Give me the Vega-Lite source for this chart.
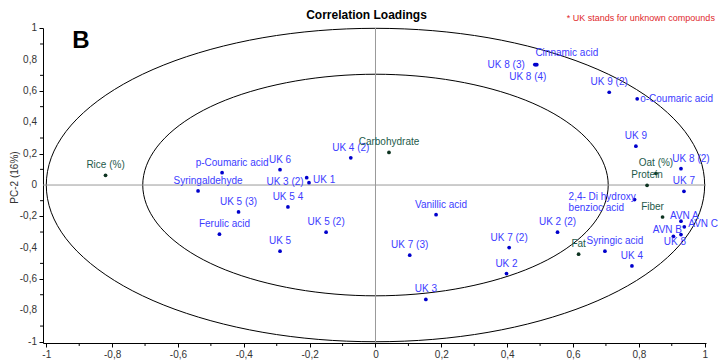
{
  "$schema": "https://vega.github.io/schema/vega-lite/v6.json",
  "width": 663,
  "height": 315,
  "autosize": "none",
  "padding": {"left": 43, "top": 28, "right": 12, "bottom": 17},
  "title": {"text": "Correlation Loadings", "fontSize": 12, "font": "Liberation Sans", "fontWeight": "bold", "anchor": "middle", "dx": -8, "offset": -8, "color": "#000000"},
  "datasets": {
    "one": [{}],
    "minor": [{"v": -0.9}, {"v": -0.7}, {"v": -0.5}, {"v": -0.3}, {"v": -0.1}, {"v": 0.1}, {"v": 0.3}, {"v": 0.5}, {"v": 0.7}, {"v": 0.9}],
    "ylabels": [{"v": 1, "t": "1"}, {"v": 0.8, "t": "0,8"}, {"v": 0.6, "t": "0,6"}, {"v": 0.4, "t": "0,4"}, {"v": 0.2, "t": "0,2"}, {"v": 0, "t": "0"}, {"v": -0.2, "t": "-0,2"}, {"v": -0.4, "t": "-0,4"}, {"v": -0.6, "t": "-0,6"}, {"v": -0.8, "t": "-0,8"}, {"v": -1, "t": "-1"}],
    "circles": [
      {"c": "outer", "a": 0, "x": 1, "y": 0}, {"c": "outer", "a": 10, "x": 0.985, "y": 0.174}, {"c": "outer", "a": 20, "x": 0.94, "y": 0.342}, {"c": "outer", "a": 30, "x": 0.866, "y": 0.5},
      {"c": "outer", "a": 40, "x": 0.766, "y": 0.643}, {"c": "outer", "a": 50, "x": 0.643, "y": 0.766}, {"c": "outer", "a": 60, "x": 0.5, "y": 0.866}, {"c": "outer", "a": 70, "x": 0.342, "y": 0.94},
      {"c": "outer", "a": 80, "x": 0.174, "y": 0.985}, {"c": "outer", "a": 90, "x": 0, "y": 1}, {"c": "outer", "a": 100, "x": -0.174, "y": 0.985}, {"c": "outer", "a": 110, "x": -0.342, "y": 0.94},
      {"c": "outer", "a": 120, "x": -0.5, "y": 0.866}, {"c": "outer", "a": 130, "x": -0.643, "y": 0.766}, {"c": "outer", "a": 140, "x": -0.766, "y": 0.643}, {"c": "outer", "a": 150, "x": -0.866, "y": 0.5},
      {"c": "outer", "a": 160, "x": -0.94, "y": 0.342}, {"c": "outer", "a": 170, "x": -0.985, "y": 0.174}, {"c": "outer", "a": 180, "x": -1, "y": 0}, {"c": "outer", "a": 190, "x": -0.985, "y": -0.174},
      {"c": "outer", "a": 200, "x": -0.94, "y": -0.342}, {"c": "outer", "a": 210, "x": -0.866, "y": -0.5}, {"c": "outer", "a": 220, "x": -0.766, "y": -0.643}, {"c": "outer", "a": 230, "x": -0.643, "y": -0.766},
      {"c": "outer", "a": 240, "x": -0.5, "y": -0.866}, {"c": "outer", "a": 250, "x": -0.342, "y": -0.94}, {"c": "outer", "a": 260, "x": -0.174, "y": -0.985}, {"c": "outer", "a": 270, "x": 0, "y": -1},
      {"c": "outer", "a": 280, "x": 0.174, "y": -0.985}, {"c": "outer", "a": 290, "x": 0.342, "y": -0.94}, {"c": "outer", "a": 300, "x": 0.5, "y": -0.866}, {"c": "outer", "a": 310, "x": 0.643, "y": -0.766},
      {"c": "outer", "a": 320, "x": 0.766, "y": -0.643}, {"c": "outer", "a": 330, "x": 0.866, "y": -0.5}, {"c": "outer", "a": 340, "x": 0.94, "y": -0.342}, {"c": "outer", "a": 350, "x": 0.985, "y": -0.174},
      {"c": "inner", "a": 0, "x": 0.707, "y": 0}, {"c": "inner", "a": 10, "x": 0.696, "y": 0.123}, {"c": "inner", "a": 20, "x": 0.664, "y": 0.242}, {"c": "inner", "a": 30, "x": 0.612, "y": 0.354},
      {"c": "inner", "a": 40, "x": 0.542, "y": 0.455}, {"c": "inner", "a": 50, "x": 0.455, "y": 0.542}, {"c": "inner", "a": 60, "x": 0.354, "y": 0.612}, {"c": "inner", "a": 70, "x": 0.242, "y": 0.664},
      {"c": "inner", "a": 80, "x": 0.123, "y": 0.696}, {"c": "inner", "a": 90, "x": 0, "y": 0.707}, {"c": "inner", "a": 100, "x": -0.123, "y": 0.696}, {"c": "inner", "a": 110, "x": -0.242, "y": 0.664},
      {"c": "inner", "a": 120, "x": -0.354, "y": 0.612}, {"c": "inner", "a": 130, "x": -0.455, "y": 0.542}, {"c": "inner", "a": 140, "x": -0.542, "y": 0.455}, {"c": "inner", "a": 150, "x": -0.612, "y": 0.354},
      {"c": "inner", "a": 160, "x": -0.664, "y": 0.242}, {"c": "inner", "a": 170, "x": -0.696, "y": 0.123}, {"c": "inner", "a": 180, "x": -0.707, "y": 0}, {"c": "inner", "a": 190, "x": -0.696, "y": -0.123},
      {"c": "inner", "a": 200, "x": -0.664, "y": -0.242}, {"c": "inner", "a": 210, "x": -0.612, "y": -0.354}, {"c": "inner", "a": 220, "x": -0.542, "y": -0.455}, {"c": "inner", "a": 230, "x": -0.455, "y": -0.542},
      {"c": "inner", "a": 240, "x": -0.354, "y": -0.612}, {"c": "inner", "a": 250, "x": -0.242, "y": -0.664}, {"c": "inner", "a": 260, "x": -0.123, "y": -0.696}, {"c": "inner", "a": 270, "x": 0, "y": -0.707},
      {"c": "inner", "a": 280, "x": 0.123, "y": -0.696}, {"c": "inner", "a": 290, "x": 0.242, "y": -0.664}, {"c": "inner", "a": 300, "x": 0.354, "y": -0.612}, {"c": "inner", "a": 310, "x": 0.455, "y": -0.542},
      {"c": "inner", "a": 320, "x": 0.542, "y": -0.455}, {"c": "inner", "a": 330, "x": 0.612, "y": -0.354}, {"c": "inner", "a": 340, "x": 0.664, "y": -0.242}, {"c": "inner", "a": 350, "x": 0.696, "y": -0.123}
    ],
    "pts": [
      {"name": "Rice (%)", "kind": "v", "x": -0.82, "y": 0.062},
      {"name": "p-Coumaric acid", "kind": "c", "x": -0.466, "y": 0.079},
      {"name": "UK 6", "kind": "c", "x": -0.29, "y": 0.098},
      {"name": "UK 4 (2)", "kind": "c", "x": -0.075, "y": 0.174},
      {"name": "Syringaldehyde", "kind": "c", "x": -0.539, "y": -0.038},
      {"name": "UK 3 (2)", "kind": "c", "x": -0.209, "y": 0.047},
      {"name": "UK 1", "kind": "c", "x": -0.202, "y": 0.015},
      {"name": "UK 5 (3)", "kind": "c", "x": -0.416, "y": -0.172},
      {"name": "UK 5 4", "kind": "c", "x": -0.266, "y": -0.14},
      {"name": "Ferulic acid", "kind": "c", "x": -0.474, "y": -0.314},
      {"name": "UK 5 (2)", "kind": "c", "x": -0.15, "y": -0.301},
      {"name": "UK 5", "kind": "c", "x": -0.29, "y": -0.422},
      {"name": "Cinnamic acid", "kind": "c", "x": 0.487, "y": 0.769},
      {"name": "UK 8 (3)", "kind": "c", "x": 0.484, "y": 0.769},
      {"name": "UK 8 (4)", "kind": "c", "x": 0.49, "y": 0.768},
      {"name": "UK 9 (2)", "kind": "c", "x": 0.71, "y": 0.592},
      {"name": "o-Coumaric acid", "kind": "c", "x": 0.795, "y": 0.55},
      {"name": "Carbohydrate", "kind": "v", "x": 0.041, "y": 0.208},
      {"name": "UK 9", "kind": "c", "x": 0.791, "y": 0.248},
      {"name": "Oat (%)", "kind": "v", "x": 0.852, "y": 0.075},
      {"name": "UK 8 (2)", "kind": "c", "x": 0.928, "y": 0.104},
      {"name": "Protein", "kind": "v", "x": 0.825, "y": -0.002},
      {"name": "UK 7", "kind": "c", "x": 0.937, "y": -0.04},
      {"name": "2,4- Di hydroxy\nbenzioc acid", "kind": "c", "x": 0.787, "y": -0.093},
      {"name": "Fiber", "kind": "v", "x": 0.872, "y": -0.204},
      {"name": "AVN A", "kind": "c", "x": 0.928, "y": -0.231},
      {"name": "AVN C", "kind": "c", "x": 0.938, "y": -0.267},
      {"name": "AVN B", "kind": "c", "x": 0.905, "y": -0.327},
      {"name": "UK 8", "kind": "c", "x": 0.928, "y": -0.316},
      {"name": "Syringic acid", "kind": "c", "x": 0.697, "y": -0.422},
      {"name": "Fat", "kind": "v", "x": 0.617, "y": -0.441},
      {"name": "UK 4", "kind": "c", "x": 0.779, "y": -0.516},
      {"name": "Vanillic acid", "kind": "c", "x": 0.184, "y": -0.189},
      {"name": "UK 2 (2)", "kind": "c", "x": 0.553, "y": -0.301},
      {"name": "UK 7 (2)", "kind": "c", "x": 0.406, "y": -0.399},
      {"name": "UK 7 (3)", "kind": "c", "x": 0.104, "y": -0.448},
      {"name": "UK 2", "kind": "c", "x": 0.398, "y": -0.565},
      {"name": "UK 3", "kind": "c", "x": 0.153, "y": -0.73}
    ]
  },
  "layer": [
    {
      "data": {"name": "circles"},
      "mark": {"type": "line", "interpolate": "cardinal-closed", "color": "#000000", "strokeWidth": 1},
      "encoding": {
        "x": {"field": "x", "type": "quantitative", "scale": {"domain": [-1.01, 1.004], "nice": false, "zero": false}, "title": null,
          "axis": {"values": [-1, -0.8, -0.6, -0.4, -0.2, 0, 0.2, 0.4, 0.6, 0.8, 1], "labelExpr": "replace(toString(round(datum.value*10)/10), '.', ',')", "grid": false, "tickSize": 4, "labelPadding": 2, "domainColor": "#000000", "tickColor": "#000000", "labelColor": "#333333", "labelFontSize": 10, "labelFont": "Liberation Sans", "labelFlush": false, "labelOverlap": false}},
        "y": {"field": "y", "type": "quantitative", "scale": {"domain": [-1.008, 1.002], "nice": false, "zero": false}, "title": "PC-2 (16%)",
          "axis": {"values": [-1, -0.8, -0.6, -0.4, -0.2, 0, 0.2, 0.4, 0.6, 0.8, 1], "labels": false, "grid": false, "tickSize": 4, "domainColor": "#000000", "tickColor": "#000000", "titleFont": "Liberation Sans", "titleFontSize": 10, "titleFontWeight": "normal", "titleColor": "#333333", "titleX": -24, "titleY": 149}},
        "detail": {"field": "c"},
        "order": {"field": "a", "type": "quantitative"}
      }
    },
    {
      "data": {"name": "ylabels"},
      "mark": {"type": "text", "align": "right", "baseline": "middle", "dx": -6, "fontSize": 10, "font": "Liberation Sans", "color": "#333333"},
      "encoding": {
        "y": {"field": "v", "type": "quantitative", "scale": {"domain": [-1.008, 1.002], "nice": false, "zero": false}, "title": "PC-2 (16%)"},
        "x": {"datum": -1.01, "type": "quantitative", "scale": {"domain": [-1.01, 1.004], "nice": false, "zero": false}, "title": null},
        "text": {"field": "t"}
      }
    },
    {
      "data": {"name": "minor"},
      "mark": {"type": "rule", "color": "#000000", "strokeWidth": 1},
      "encoding": {
        "x": {"field": "v", "type": "quantitative", "scale": {"domain": [-1.01, 1.004], "nice": false, "zero": false}, "title": null},
        "y": {"datum": -1.008, "type": "quantitative", "scale": {"domain": [-1.008, 1.002], "nice": false, "zero": false}, "title": "PC-2 (16%)"},
        "y2": {"datum": -1.027}
      }
    },
    {
      "data": {"name": "minor"},
      "mark": {"type": "rule", "color": "#000000", "strokeWidth": 1},
      "encoding": {
        "y": {"field": "v", "type": "quantitative", "scale": {"domain": [-1.008, 1.002], "nice": false, "zero": false}, "title": "PC-2 (16%)"},
        "x": {"datum": -1.01, "type": "quantitative", "scale": {"domain": [-1.01, 1.004], "nice": false, "zero": false}, "title": null},
        "x2": {"datum": -1.019}
      }
    },
    {
      "data": {"name": "one"},
      "mark": {"type": "rule", "color": "#999999", "strokeWidth": 1},
      "encoding": {
        "y": {"datum": 0, "type": "quantitative", "scale": {"domain": [-1.008, 1.002], "nice": false, "zero": false}, "title": "PC-2 (16%)"},
        "x": {"datum": -1.01, "type": "quantitative", "scale": {"domain": [-1.01, 1.004], "nice": false, "zero": false}, "title": null},
        "x2": {"datum": 1.004}
      }
    },
    {
      "data": {"name": "one"},
      "mark": {"type": "rule", "color": "#999999", "strokeWidth": 1},
      "encoding": {
        "x": {"datum": 0, "type": "quantitative", "scale": {"domain": [-1.01, 1.004], "nice": false, "zero": false}, "title": null},
        "y": {"datum": -1.008, "type": "quantitative", "scale": {"domain": [-1.008, 1.002], "nice": false, "zero": false}, "title": "PC-2 (16%)"},
        "y2": {"datum": 1.002}
      }
    },
    {
      "data": {"name": "pts"},
      "mark": {"type": "point", "filled": true, "size": 14, "opacity": 1},
      "encoding": {
        "x": {"field": "x", "type": "quantitative", "scale": {"domain": [-1.01, 1.004], "nice": false, "zero": false}, "title": null},
        "y": {"field": "y", "type": "quantitative", "scale": {"domain": [-1.008, 1.002], "nice": false, "zero": false}, "title": "PC-2 (16%)"},
        "color": {"condition": {"test": "datum.kind === 'v'", "value": "#0d3320"}, "value": "#0000cc"}
      }
    },
    {
      "data": {"name": "pts"},
      "transform": [{"filter": {"not": {"field": "name", "oneOf": ["Syringaldehyde", "p-Coumaric acid", "UK 8 (2)", "Syringic acid", "Vanillic acid", "Ferulic acid", "Fiber", "UK 3 (2)", "UK 1", "AVN C", "o-Coumaric acid", "Cinnamic acid", "UK 8 (3)", "UK 8 (4)", "2,4- Di hydroxy\nbenzioc acid", "AVN A", "AVN B", "UK 8"]}}}],
      "mark": {"type": "text", "align": "center", "baseline": "middle", "dy": -10, "fontSize": 10, "font": "Liberation Sans"},
      "encoding": {
        "x": {"field": "x", "type": "quantitative", "scale": {"domain": [-1.01, 1.004], "nice": false, "zero": false}, "title": null},
        "y": {"field": "y", "type": "quantitative", "scale": {"domain": [-1.008, 1.002], "nice": false, "zero": false}, "title": "PC-2 (16%)"},
        "text": {"field": "name"},
        "color": {"condition": {"test": "datum.kind === 'v'", "value": "#1d5a4a"}, "value": "#3c3cff"}
      }
    },
    {
      "data": {"name": "pts"},
      "transform": [{"filter": {"field": "name", "oneOf": ["Syringaldehyde", "p-Coumaric acid", "UK 8 (2)", "Syringic acid"]}}],
      "mark": {"type": "text", "align": "center", "baseline": "middle", "dx": 10, "dy": -10, "fontSize": 10, "font": "Liberation Sans"},
      "encoding": {
        "x": {"field": "x", "type": "quantitative", "scale": {"domain": [-1.01, 1.004], "nice": false, "zero": false}, "title": null},
        "y": {"field": "y", "type": "quantitative", "scale": {"domain": [-1.008, 1.002], "nice": false, "zero": false}, "title": "PC-2 (16%)"},
        "text": {"field": "name"},
        "color": {"condition": {"test": "datum.kind === 'v'", "value": "#1d5a4a"}, "value": "#3c3cff"}
      }
    },
    {
      "data": {"name": "pts"},
      "transform": [{"filter": {"field": "name", "oneOf": ["Vanillic acid", "Ferulic acid"]}}],
      "mark": {"type": "text", "align": "center", "baseline": "middle", "dx": 5, "dy": -10, "fontSize": 10, "font": "Liberation Sans"},
      "encoding": {
        "x": {"field": "x", "type": "quantitative", "scale": {"domain": [-1.01, 1.004], "nice": false, "zero": false}, "title": null},
        "y": {"field": "y", "type": "quantitative", "scale": {"domain": [-1.008, 1.002], "nice": false, "zero": false}, "title": "PC-2 (16%)"},
        "text": {"field": "name"},
        "color": {"condition": {"test": "datum.kind === 'v'", "value": "#1d5a4a"}, "value": "#3c3cff"}
      }
    },
    {
      "data": {"name": "pts"},
      "transform": [{"filter": {"field": "name", "oneOf": ["Fiber"]}}],
      "mark": {"type": "text", "align": "center", "baseline": "middle", "dx": -10, "dy": -10, "fontSize": 10, "font": "Liberation Sans"},
      "encoding": {
        "x": {"field": "x", "type": "quantitative", "scale": {"domain": [-1.01, 1.004], "nice": false, "zero": false}, "title": null},
        "y": {"field": "y", "type": "quantitative", "scale": {"domain": [-1.008, 1.002], "nice": false, "zero": false}, "title": "PC-2 (16%)"},
        "text": {"field": "name"},
        "color": {"condition": {"test": "datum.kind === 'v'", "value": "#1d5a4a"}, "value": "#3c3cff"}
      }
    },
    {
      "data": {"name": "pts"},
      "transform": [{"filter": {"field": "name", "oneOf": ["UK 3 (2)"]}}],
      "mark": {"type": "text", "align": "right", "baseline": "middle", "dx": -3, "dy": 4, "fontSize": 10, "font": "Liberation Sans"},
      "encoding": {
        "x": {"field": "x", "type": "quantitative", "scale": {"domain": [-1.01, 1.004], "nice": false, "zero": false}, "title": null},
        "y": {"field": "y", "type": "quantitative", "scale": {"domain": [-1.008, 1.002], "nice": false, "zero": false}, "title": "PC-2 (16%)"},
        "text": {"field": "name"},
        "color": {"value": "#3c3cff"}
      }
    },
    {
      "data": {"name": "pts"},
      "transform": [{"filter": {"field": "name", "oneOf": ["UK 1", "AVN C"]}}],
      "mark": {"type": "text", "align": "left", "baseline": "middle", "dx": 4, "dy": -3, "fontSize": 10, "font": "Liberation Sans"},
      "encoding": {
        "x": {"field": "x", "type": "quantitative", "scale": {"domain": [-1.01, 1.004], "nice": false, "zero": false}, "title": null},
        "y": {"field": "y", "type": "quantitative", "scale": {"domain": [-1.008, 1.002], "nice": false, "zero": false}, "title": "PC-2 (16%)"},
        "text": {"field": "name"},
        "color": {"value": "#3c3cff"}
      }
    },
    {
      "data": {"name": "pts"},
      "transform": [{"filter": {"field": "name", "oneOf": ["o-Coumaric acid"]}}],
      "mark": {"type": "text", "align": "left", "baseline": "middle", "dx": 3, "dy": 0, "fontSize": 10, "font": "Liberation Sans"},
      "encoding": {
        "x": {"field": "x", "type": "quantitative", "scale": {"domain": [-1.01, 1.004], "nice": false, "zero": false}, "title": null},
        "y": {"field": "y", "type": "quantitative", "scale": {"domain": [-1.008, 1.002], "nice": false, "zero": false}, "title": "PC-2 (16%)"},
        "text": {"field": "name"},
        "color": {"value": "#3c3cff"}
      }
    },
    {
      "data": {"name": "pts"},
      "transform": [{"filter": {"field": "name", "oneOf": ["Cinnamic acid"]}}],
      "mark": {"type": "text", "align": "center", "baseline": "middle", "dx": 31, "dy": -12, "fontSize": 10, "font": "Liberation Sans"},
      "encoding": {
        "x": {"field": "x", "type": "quantitative", "scale": {"domain": [-1.01, 1.004], "nice": false, "zero": false}, "title": null},
        "y": {"field": "y", "type": "quantitative", "scale": {"domain": [-1.008, 1.002], "nice": false, "zero": false}, "title": "PC-2 (16%)"},
        "text": {"field": "name"},
        "color": {"value": "#3c3cff"}
      }
    },
    {
      "data": {"name": "pts"},
      "transform": [{"filter": {"field": "name", "oneOf": ["UK 8 (3)"]}}],
      "mark": {"type": "text", "align": "right", "baseline": "middle", "dx": -10, "dy": 0, "fontSize": 10, "font": "Liberation Sans"},
      "encoding": {
        "x": {"field": "x", "type": "quantitative", "scale": {"domain": [-1.01, 1.004], "nice": false, "zero": false}, "title": null},
        "y": {"field": "y", "type": "quantitative", "scale": {"domain": [-1.008, 1.002], "nice": false, "zero": false}, "title": "PC-2 (16%)"},
        "text": {"field": "name"},
        "color": {"value": "#3c3cff"}
      }
    },
    {
      "data": {"name": "pts"},
      "transform": [{"filter": {"field": "name", "oneOf": ["UK 8 (4)"]}}],
      "mark": {"type": "text", "align": "center", "baseline": "middle", "dx": -9, "dy": 12, "fontSize": 10, "font": "Liberation Sans"},
      "encoding": {
        "x": {"field": "x", "type": "quantitative", "scale": {"domain": [-1.01, 1.004], "nice": false, "zero": false}, "title": null},
        "y": {"field": "y", "type": "quantitative", "scale": {"domain": [-1.008, 1.002], "nice": false, "zero": false}, "title": "PC-2 (16%)"},
        "text": {"field": "name"},
        "color": {"value": "#3c3cff"}
      }
    },
    {
      "data": {"name": "pts"},
      "transform": [{"filter": {"field": "name", "oneOf": ["2,4- Di hydroxy\nbenzioc acid"]}}],
      "mark": {"type": "text", "align": "left", "baseline": "middle", "dx": -66, "dy": -3, "fontSize": 10, "font": "Liberation Sans", "lineBreak": "\n", "lineHeight": 11.5},
      "encoding": {
        "x": {"field": "x", "type": "quantitative", "scale": {"domain": [-1.01, 1.004], "nice": false, "zero": false}, "title": null},
        "y": {"field": "y", "type": "quantitative", "scale": {"domain": [-1.008, 1.002], "nice": false, "zero": false}, "title": "PC-2 (16%)"},
        "text": {"field": "name"},
        "color": {"value": "#3c3cff"}
      }
    },
    {
      "data": {"name": "pts"},
      "transform": [{"filter": {"field": "name", "oneOf": ["AVN A"]}}],
      "mark": {"type": "text", "align": "left", "baseline": "middle", "dx": -11, "dy": -5, "fontSize": 10, "font": "Liberation Sans"},
      "encoding": {
        "x": {"field": "x", "type": "quantitative", "scale": {"domain": [-1.01, 1.004], "nice": false, "zero": false}, "title": null},
        "y": {"field": "y", "type": "quantitative", "scale": {"domain": [-1.008, 1.002], "nice": false, "zero": false}, "title": "PC-2 (16%)"},
        "text": {"field": "name"},
        "color": {"value": "#3c3cff"}
      }
    },
    {
      "data": {"name": "pts"},
      "transform": [{"filter": {"field": "name", "oneOf": ["AVN B"]}}],
      "mark": {"type": "text", "align": "center", "baseline": "middle", "dx": -6, "dy": -6, "fontSize": 10, "font": "Liberation Sans"},
      "encoding": {
        "x": {"field": "x", "type": "quantitative", "scale": {"domain": [-1.01, 1.004], "nice": false, "zero": false}, "title": null},
        "y": {"field": "y", "type": "quantitative", "scale": {"domain": [-1.008, 1.002], "nice": false, "zero": false}, "title": "PC-2 (16%)"},
        "text": {"field": "name"},
        "color": {"value": "#3c3cff"}
      }
    },
    {
      "data": {"name": "pts"},
      "transform": [{"filter": {"field": "name", "oneOf": ["UK 8"]}}],
      "mark": {"type": "text", "align": "center", "baseline": "middle", "dx": -6, "dy": 7, "fontSize": 10, "font": "Liberation Sans"},
      "encoding": {
        "x": {"field": "x", "type": "quantitative", "scale": {"domain": [-1.01, 1.004], "nice": false, "zero": false}, "title": null},
        "y": {"field": "y", "type": "quantitative", "scale": {"domain": [-1.008, 1.002], "nice": false, "zero": false}, "title": "PC-2 (16%)"},
        "text": {"field": "name"},
        "color": {"value": "#3c3cff"}
      }
    },
    {
      "data": {"name": "one"},
      "mark": {"type": "text", "text": "B", "align": "center", "baseline": "middle", "fontSize": 24, "fontWeight": "bold", "font": "Liberation Sans", "color": "#000000"},
      "encoding": {
        "x": {"datum": -0.895, "type": "quantitative", "scale": {"domain": [-1.01, 1.004], "nice": false, "zero": false}, "title": null},
        "y": {"datum": 0.918, "type": "quantitative", "scale": {"domain": [-1.008, 1.002], "nice": false, "zero": false}, "title": "PC-2 (16%)"}
      }
    },
    {
      "data": {"name": "one"},
      "mark": {"type": "text", "text": "* UK stands for unknown compounds", "align": "right", "baseline": "middle", "fontSize": 9, "font": "Liberation Sans", "color": "#e0282a"},
      "encoding": {
        "x": {"datum": 1.031, "type": "quantitative", "scale": {"domain": [-1.01, 1.004], "nice": false, "zero": false}, "title": null},
        "y": {"datum": 1.068, "type": "quantitative", "scale": {"domain": [-1.008, 1.002], "nice": false, "zero": false}, "title": "PC-2 (16%)"}
      }
    }
  ],
  "config": {
    "view": {"stroke": null},
    "font": "Liberation Sans",
    "axis": {"labelOverlap": false, "labelFlush": false}
  }
}
